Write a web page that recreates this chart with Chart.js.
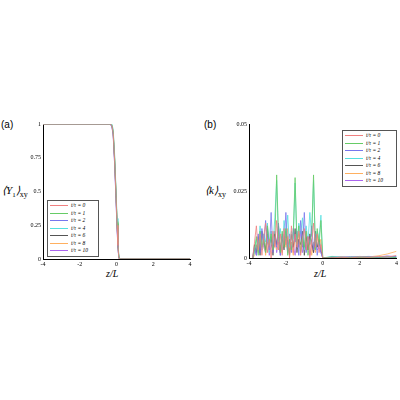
<!DOCTYPE html>
<html><head><meta charset="utf-8">
<script src="https://cdn.jsdelivr.net/npm/chart.js@4"></script>
<style>
body{margin:0;width:400px;height:400px;background:#fff;position:relative;font-family:"Liberation Serif",serif;overflow:hidden}
canvas{position:absolute}
.t{position:absolute;white-space:nowrap}
.leg{position:absolute;border:1px solid #555;background:#fff;font-size:5.5px;font-style:italic;padding:1px 2px}
.leg div{height:7.5px;line-height:7.5px}
.leg span{display:inline-block;width:18px;height:1px;vertical-align:middle;margin-right:3px}
</style></head><body>
<div class="t" style="left:1px;top:119px;font:10px 'Liberation Sans',sans-serif">(a)</div>
<div class="t" style="left:204px;top:119px;font:10px 'Liberation Sans',sans-serif">(b)</div>
<div class="t" style="left:2px;top:184px;font-size:11px"><i>⟨Y</i><sub style="font-size:7px">1</sub><i>⟩</i><sub style="font-size:8px">xy</sub></div>
<div class="t" style="left:205px;top:184px;font-size:11px"><i>⟨k⟩</i><sub style="font-size:8px">xy</sub></div>
<div class="t" style="left:106px;top:268px;font-size:10px;font-style:italic">z/L</div>
<div class="t" style="left:314px;top:268px;font-size:10px;font-style:italic">z/L</div>
<canvas id="a" style="left:0;top:115px"></canvas>
<canvas id="b" style="left:200px;top:115px"></canvas>
<div class="leg" id="legA" style="left:47px;top:200px;width:46px"></div>
<div class="leg" id="legB" style="left:342px;top:130px;width:49px"></div>
<script>
const labels = ['t/τ = 0','t/τ = 1','t/τ = 2','t/τ = 4','t/τ = 6','t/τ = 8','t/τ = 10'];
const colors = ['#f08080','#66cc66','#7777ee','#55e0e0','#555555','#ffb060','#aa66ee'];
const xTicks = [-4,-2,0,2,4];
const aTicks = [0,0.25,0.5,0.75,1];
const bTicks = [0,0.025,0.05];

// panel (a): mean Y1 profile
const zA = [-4,-0.35,-0.25,-0.18,-0.1,-0.03,0.03,0.08,0.12,0.16,4];
const yA = [
  [1,1,0.99,0.93,0.72,0.48,0.25,0.1,0.02,0,0],
  [1,1,0.99,0.94,0.74,0.5,0.27,0.11,0.03,0,0],
  [1,1,0.98,0.92,0.7,0.46,0.23,0.09,0.02,0,0],
  [1,1,1,0.96,0.77,0.53,0.3,0.14,0.04,0,0],
  [1,1,0.99,0.93,0.73,0.49,0.26,0.1,0.02,0,0],
  [1,1,0.99,0.95,0.75,0.51,0.28,0.12,0.03,0,0],
  [1,1,0.98,0.91,0.7,0.45,0.22,0.08,0.01,0,0]
];

// panel (b): mean k profile, values in units of 1e-3
const zB = [-3.8,-3.7,-3.6,-3.5,-3.4,-3.3,-3.2,-3.1,-3,-2.9,-2.8,-2.7,-2.6,-2.5,-2.4,-2.3,-2.2,-2.1,-2,-1.9,-1.8,-1.7,-1.6,-1.5,-1.4,-1.3,-1.2,-1.1,-1,-0.9,-0.8,-0.7,-0.6,-0.5,-0.4,-0.3,-0.2,-0.1,0,0.5,1,1.5,2,2.5,3,3.5,4];
const kB = [
  [0,6,12,3,9,1,8,13,2,7,0,10,4,14,3,9,1,11,5,8,0,12,2,9,4,10,1,7,11,3,8,0,6,13,4,9,2,5,0,0,0.3,0,0.4,0.2,0.6,0.3,1],
  [0,3,8,1,10,4,7,2,12,5,9,3,6,31,8,2,10,4,11,1,7,3,9,30,5,12,2,8,4,10,1,6,9,31,3,11,5,14,0,0.4,0,0.3,0.2,0.3,0,0.5,0.2],
  [0,4,1,9,2,11,5,14,6,3,17,2,8,4,13,1,9,5,17,3,7,2,11,6,10,1,14,4,17,2,8,5,12,3,9,1,6,2,0,0.3,0.2,0.5,0.3,0.4,0.2,0.3,0.6],
  [0,2,7,4,12,3,9,6,13,2,10,5,15,29,6,11,3,14,8,16,4,10,7,28,5,13,9,15,3,12,6,17,8,29,4,10,7,16,0,0.6,0.4,0.2,0.5,0.3,0.4,0.2,0.5],
  [0,5,2,8,1,10,6,3,11,4,8,1,9,5,12,2,7,3,10,6,1,9,4,11,2,7,5,10,1,8,3,9,6,2,10,4,7,3,0,0,0.2,0.1,0.3,0.2,0.1,0.3,0.2],
  [0,1,5,2,7,3,9,1,6,4,10,2,7,3,8,5,2,9,4,11,3,6,1,8,5,9,2,7,4,10,3,8,1,6,2,9,4,7,0,0.2,0.5,0.3,0.6,0.4,0.8,1.5,2.5],
  [0,3,1,6,2,8,4,2,9,1,5,3,10,2,6,1,8,4,7,2,9,3,5,1,7,4,10,2,6,3,8,1,5,2,7,3,4,2,0,0.3,0.5,0.2,0.4,0.6,0.3,0.8,0.4]
];

const tickFont = {family:'Liberation Serif', size:6};
function axes(yt, ymax, yFmt) {
  return {
    x: {type:'linear', min:-4, max:4, grid:{display:false, drawTicks:false}, border:{color:'#000'},
        afterBuildTicks: s => { s.ticks = xTicks.map(v => ({value:v})); },
        afterFit: s => { s.height = 10; },
        ticks:{font:tickFont, color:'#000', padding:2}},
    y: {min:0, max:ymax, grid:{display:false, drawTicks:false}, border:{color:'#000'},
        afterBuildTicks: s => { s.ticks = yt.map(v => ({value:v})); },
        afterFit: s => { s.width = 20; },
        ticks:{font:tickFont, color:'#000', padding:2, callback: yFmt}}
  };
}
function mk(id, w, h, pad, datasets, yt, ymax, yFmt) {
  const c = document.getElementById(id);
  c.width = w; c.height = h; c.style.width = w + 'px'; c.style.height = h + 'px';
  new Chart(c, {
    type:'line',
    data:{datasets},
    options:{responsive:false, animation:false, layout:{padding:pad},
      plugins:{legend:{display:false}, tooltip:{enabled:false}},
      elements:{point:{radius:0}, line:{borderWidth:0.8, tension:0}},
      scales: axes(yt, ymax, yFmt)}
  });
}
mk('a', 195, 155, {left:23, top:9, right:5, bottom:1},
  yA.map((ys, i) => ({data: zA.map((z, j) => ({x:z, y:ys[j]})), borderColor: colors[i]})),
  aTicks, 1, v => v);
mk('b', 200, 155, {left:29, top:9, right:2, bottom:2},
  kB.map((ks, i) => ({data: zB.map((z, j) => ({x:z, y:ks[j]})), borderColor: colors[i]})),
  bTicks.map(v => v * 1000), 50, v => bTicks[bTicks.map(t => t * 1000).indexOf(v)]);

for (const id of ['legA','legB']) {
  document.getElementById(id).innerHTML = labels.map((l, i) =>
    `<div><span style="background:${colors[i]}"></span>${l}</div>`).join('');
}
</script>
</body></html>
